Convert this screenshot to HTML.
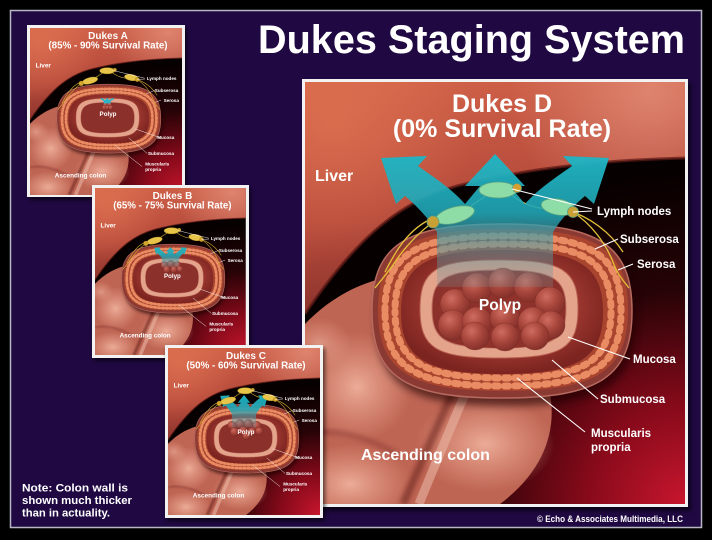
<!DOCTYPE html>
<html><head><meta charset="utf-8"><style>
html,body{margin:0;padding:0;background:#000;}
svg{display:block;}
text{font-family:"Liberation Sans",Arial,sans-serif;font-weight:bold;fill:#fff;}
</style></head><body>
<svg width="712" height="540" viewBox="0 0 712 540" xmlns="http://www.w3.org/2000/svg">
<defs>
 <radialGradient id="dark" gradientUnits="userSpaceOnUse" cx="380" cy="422" r="330">
  <stop offset="0" stop-color="#c8162e"/><stop offset=".3" stop-color="#860a1a"/>
  <stop offset=".65" stop-color="#260306"/><stop offset="1" stop-color="#070000"/>
 </radialGradient>
 <linearGradient id="liver" x1="0" y1="0" x2=".25" y2="1">
  <stop offset="0" stop-color="#d3644a"/><stop offset=".6" stop-color="#b54a3b"/><stop offset="1" stop-color="#86302a"/>
 </linearGradient>
 <radialGradient id="liverHi1" gradientUnits="userSpaceOnUse" cx="345" cy="10" r="140">
  <stop offset="0" stop-color="#eea08a" stop-opacity=".6"/><stop offset="1" stop-color="#eea08a" stop-opacity="0"/>
 </radialGradient>
 <radialGradient id="liverHi2" gradientUnits="userSpaceOnUse" cx="30" cy="40" r="140">
  <stop offset="0" stop-color="#e77a55" stop-opacity=".55"/><stop offset="1" stop-color="#e77a55" stop-opacity="0"/>
 </radialGradient>
 <radialGradient id="hl">
  <stop offset="0" stop-color="#eeb09c" stop-opacity=".95"/><stop offset=".5" stop-color="#e6a08a" stop-opacity=".55"/><stop offset="1" stop-color="#e6a08a" stop-opacity="0"/>
 </radialGradient>
 <radialGradient id="polypG" cx=".38" cy=".32" r=".7">
  <stop offset="0" stop-color="#d06c60"/><stop offset=".55" stop-color="#a5443a"/><stop offset="1" stop-color="#84302a"/>
 </radialGradient>
 <radialGradient id="subG" cx=".5" cy=".45" r=".55">
  <stop offset=".6" stop-color="#a23a32"/><stop offset="1" stop-color="#7c2420"/>
 </radialGradient>
 <linearGradient id="arrowG" gradientUnits="userSpaceOnUse" x1="0" y1="70" x2="0" y2="205">
  <stop offset="0" stop-color="#1fb6c5" stop-opacity=".97"/><stop offset=".45" stop-color="#20a6b6" stop-opacity=".9"/>
  <stop offset=".7" stop-color="#4a9ca6" stop-opacity=".55"/><stop offset="1" stop-color="#7a9298" stop-opacity=".25"/>
 </linearGradient>
 <filter id="blur4" x="-20%" y="-20%" width="140%" height="140%"><feGaussianBlur stdDeviation="4"/></filter>
 <filter id="blur2" x="-20%" y="-20%" width="140%" height="140%"><feGaussianBlur stdDeviation="2"/></filter>
 <filter id="sh" x="-10%" y="-10%" width="120%" height="120%"><feGaussianBlur stdDeviation="2"/></filter>
 <clipPath id="clipP"><rect width="380" height="422"/></clipPath>

 <g id="base">
  <rect width="380" height="422" fill="url(#dark)"/>
  <path d="M0,0 H380 V76 C300,78 222,86 152,104 C100,118 55,150 0,232 Z" fill="url(#liver)"/>
  <path d="M0,0 H380 V76 C300,78 222,86 152,104 C100,118 55,150 0,232 Z" fill="url(#liverHi1)"/>
  <path d="M0,0 H380 V76 C300,78 222,86 152,104 C100,118 55,150 0,232 Z" fill="url(#liverHi2)"/>
  <path d="M380,76 C300,78 222,86 152,104 C100,118 55,150 0,232" fill="none" stroke="#5e1a16" stroke-width="3" opacity=".7"/>
  <path d="M0,242 C25,216 55,200 88,194 C110,232 125,280 150,300 L245,312 C252,350 238,390 195,422 L0,422 Z" fill="#bf6554"/>
  <ellipse cx="52" cy="305" rx="55" ry="55" fill="url(#hl)"/>
  <ellipse cx="45" cy="402" rx="62" ry="40" fill="url(#hl)"/>
  <ellipse cx="180" cy="362" rx="70" ry="48" fill="url(#hl)"/>
  <ellipse cx="15" cy="262" rx="32" ry="26" fill="url(#hl)" opacity=".7"/>
  <path d="M150,305 C132,345 112,390 98,422" stroke="#5e1c18" stroke-width="8" fill="none" opacity=".5" filter="url(#blur2)"/>
  <path d="M160,312 C144,350 126,392 114,422" stroke="#e8b4a2" stroke-width="9" fill="none" opacity=".6"/>
  <path d="M0,352 C30,346 60,354 92,372" stroke="#6a2420" stroke-width="6" fill="none" opacity=".3" filter="url(#blur2)"/>
  <path d="M67,229 C67,163.75 99.5,142 197,142 C294.5,142 327,163.75 327,229 C327,294.25 294.5,316 197,316 C99.5,316 67,294.25 67,229 Z" transform="translate(4,8)" fill="#1a0404" opacity=".6" filter="url(#blur4)"/>
  <path d="M67,229 C67,163.75 99.5,142 197,142 C294.5,142 327,163.75 327,229 C327,294.25 294.5,316 197,316 C99.5,316 67,294.25 67,229 Z" fill="#8a3a33" stroke="#b76a5f" stroke-width="1.5"/>
  <path d="M73,228 C73,167.25 104.25,147 198,147 C291.75,147 323,167.25 323,228 C323,288.75 291.75,309 198,309 C104.25,309 73,288.75 73,228 Z" fill="#a9442f"/>
  <path d="M80,229 C80,172.75 109.5,154 198,154 C286.5,154 316,172.75 316,229 C316,285.25 286.5,304 198,304 C109.5,304 80,285.25 80,229 Z" fill="none" stroke="#e98c63" stroke-width="7" stroke-dasharray="4 6" stroke-linecap="round"/>
  <path d="M90,229 C90,178.75 117,162 198,162 C279,162 306,178.75 306,229 C306,279.25 279,296 198,296 C117,296 90,279.25 90,229 Z" fill="none" stroke="#e98c63" stroke-width="7" stroke-dasharray="4 6" stroke-dashoffset="5" stroke-linecap="round"/>
  <path d="M96,230 C96,183.5 121,168 197,168 C273,168 298,183.5 298,230 C298,276.5 273,292 197,292 C121,292 96,276.5 96,230 Z" fill="url(#subG)"/>
  <path d="M115,227 C115,187.8 130.8,178 194,178 C257.2,178 273,187.8 273,227 C273,266.2 257.2,276 194,276 C130.8,276 115,266.2 115,227 Z" fill="#e4a38b" stroke="#b8604f" stroke-width="1"/>
  <path d="M127,227 C127,195.8 140.4,188 194,188 C247.6,188 261,195.8 261,227 C261,258.2 247.6,266 194,266 C140.4,266 127,258.2 127,227 Z" fill="#8b302a" stroke="#c07060" stroke-width="1"/>
 </g>

 <g id="vessels" fill="none" stroke="#e3c23a" stroke-width="1.3">
  <path d="M128,140 C112,152 100,165 90,180 C82,192 76,198 70,206"/>
  <path d="M122,139 C102,150 90,170 80,190"/>
  <path d="M268,130 C286,142 300,160 308,180 C312,192 318,198 324,206"/>
  <path d="M262,128 C285,135 305,150 318,170"/>
  <path d="M160,128 C175,118 182,112 192,110"/>
  <path d="M205,112 C222,126 240,128 250,126"/>
 </g>

 <path id="arrowP" d="M132,205 L132,150 C124,137 112,124 100,114 L91,122 L76,76 L122,74 L113,84 C130,96 148,108 160,122 L175,104 L160,104 L190,72 L220,104 L205,104 L220,122 C232,108 250,96 267,84 L258,74 L304,76 L289,122 L280,114 C268,124 256,137 248,150 L248,205 Z"/>

 <g id="nodesY" stroke="#a88a20" stroke-width=".8">
  <ellipse cx="193" cy="108" rx="19" ry="8" fill="#e8c548"/>
  <ellipse cx="150" cy="133" rx="20" ry="8" fill="#e8c548" transform="rotate(-15 150 133)"/>
  <ellipse cx="253" cy="125" rx="17" ry="8" fill="#e8c548" transform="rotate(10 253 125)"/>
  <circle cx="128" cy="140" r="6" fill="#d4a530"/>
  <circle cx="212" cy="106" r="4.5" fill="#d4a530"/>
  <circle cx="268" cy="130" r="5.5" fill="#d4a530"/>
 </g>

 <g id="llines" stroke="#fff" stroke-width="1.1">
  <line x1="287" y1="127" x2="207" y2="107"/>
  <line x1="287" y1="129" x2="268" y2="130"/>
  <line x1="313" y1="157" x2="290" y2="167"/>
  <line x1="328" y1="182" x2="313" y2="188"/>
  <line x1="325" y1="277" x2="263" y2="255"/>
  <line x1="293" y1="317" x2="247" y2="278"/>
  <line x1="280" y1="350" x2="212" y2="296"/>
 </g>
</defs>

<rect width="712" height="540" fill="#000"/>
<rect x="10.5" y="10.5" width="691" height="517" fill="#200943" stroke="#b8b8c4" stroke-width="1.5"/>
<text x="258" y="53" font-size="39.5" textLength="427" lengthAdjust="spacingAndGlyphs">Dukes Staging System</text>

<!-- Panel D -->
<rect x="305" y="83" width="386" height="428" fill="#000" opacity=".6" filter="url(#sh)"/>
<rect x="302" y="79" width="386" height="428" fill="#f2f2f2"/>
<g transform="translate(305,82)">
 <g clip-path="url(#clipP)">
  <use href="#base"/>
  <path d="M134,225 C132,200 150,192 194,192 C240,192 258,200 258,228 C258,258 240,266 196,266 C150,266 136,255 134,225 Z" fill="#8e322b"/>
  <g fill="url(#polypG)" stroke="#74282280" stroke-width=".6">
   <circle cx="150" cy="222" r="15"/><circle cx="172" cy="206" r="15"/><circle cx="198" cy="201" r="15"/>
   <circle cx="224" cy="205" r="15"/><circle cx="245" cy="220" r="15"/><circle cx="148" cy="243" r="15"/>
   <circle cx="172" cy="240" r="15"/><circle cx="200" cy="236" r="15"/><circle cx="228" cy="240" r="15"/>
   <circle cx="246" cy="243" r="14"/><circle cx="170" cy="254" r="14"/><circle cx="200" cy="255" r="14"/>
   <circle cx="230" cy="254" r="14"/>
  </g>
  <use href="#vessels"/>
  <use href="#arrowP" fill="url(#arrowG)"/>
  <g stroke="#5aa080" stroke-width=".8">
   <ellipse cx="193" cy="108" rx="19" ry="8" fill="#8edca6"/>
   <ellipse cx="150" cy="133" rx="20" ry="8" fill="#8edca6" transform="rotate(-15 150 133)"/>
   <ellipse cx="253" cy="125" rx="17" ry="8" fill="#8edca6" transform="rotate(10 253 125)"/>
   <circle cx="128" cy="140" r="6" fill="#c9a034"/>
   <circle cx="212" cy="106" r="4.5" fill="#d8a030"/>
   <circle cx="268" cy="130" r="5.5" fill="#c9a034"/>
  </g>
  <use href="#llines"/>
  <text x="197" y="30" font-size="25" text-anchor="middle">Dukes D</text>
  <text x="197" y="55" font-size="25" text-anchor="middle">(0% Survival Rate)</text>
  <text x="10" y="99" font-size="16">Liver</text>
  <text x="292" y="133" font-size="11.5">Lymph nodes</text>
  <text x="315" y="161" font-size="11.5">Subserosa</text>
  <text x="332" y="186" font-size="11.5">Serosa</text>
  <text x="195" y="228" font-size="15.5" text-anchor="middle">Polyp</text>
  <text x="328" y="281" font-size="11.5">Mucosa</text>
  <text x="295" y="321" font-size="11.5">Submucosa</text>
  <text x="286" y="355" font-size="11.5">Muscularis</text>
  <text x="286" y="369" font-size="11.5">propria</text>
  <text x="56" y="378" font-size="16">Ascending colon</text>
 </g>
</g>

<!-- Panel A -->
<rect x="29" y="28" width="158" height="172" fill="#000" opacity=".6" filter="url(#sh)"/>
<rect x="27" y="25" width="158" height="172" fill="#f2f2f2"/>
<g transform="translate(30,28) scale(0.4,0.3957)">
 <g clip-path="url(#clipP)">
  <use href="#base"/>
  <g fill="url(#polypG)" stroke="#6e2420" stroke-width=".8">
   <circle cx="189" cy="194" r="6"/><circle cx="199" cy="194" r="6"/><circle cx="186" cy="201" r="6"/>
   <circle cx="194" cy="201" r="6"/><circle cx="202" cy="201" r="6"/>
  </g>
  <use href="#vessels"/>
  <use href="#arrowP" fill="#2bb3c6" transform="translate(193,190) scale(0.15,0.1) translate(-190,-200)"/>
  <use href="#nodesY"/>
  <use href="#llines"/>
  <text x="195" y="28" font-size="25" text-anchor="middle">Dukes A</text>
  <text x="195" y="52" font-size="24.5" text-anchor="middle">(85% - 90% Survival Rate)</text>
  <text x="14" y="100" font-size="16">Liver</text>
  <text x="292" y="131" font-size="11.5">Lymph nodes</text>
  <text x="312" y="162" font-size="11.5">Subserosa</text>
  <text x="334" y="187" font-size="11.5">Serosa</text>
  <text x="195" y="222" font-size="15.5" text-anchor="middle">Polyp</text>
  <text x="318" y="281" font-size="11.5">Mucosa</text>
  <text x="295" y="321" font-size="11.5">Submucosa</text>
  <text x="288" y="348" font-size="11.5">Muscularis</text>
  <text x="288" y="362" font-size="11.5">propria</text>
  <text x="62" y="378" font-size="16">Ascending colon</text>
 </g>
</g>

<!-- Panel B -->
<rect x="94" y="188" width="157" height="173" fill="#000" opacity=".6" filter="url(#sh)"/>
<rect x="92" y="185" width="157" height="173" fill="#f2f2f2"/>
<g transform="translate(95,188) scale(0.397,0.3957)">
 <g clip-path="url(#clipP)">
  <use href="#base"/>
  <g fill="url(#polypG)" stroke="#6e2420" stroke-width=".8">
   <circle cx="174" cy="195" r="9"/><circle cx="191" cy="192" r="9"/><circle cx="208" cy="195" r="9"/>
   <circle cx="181" cy="206" r="9"/><circle cx="199" cy="206" r="9"/><circle cx="214" cy="205" r="8"/>
  </g>
  <use href="#vessels"/>
  <use href="#arrowP" fill="url(#arrowG)" transform="translate(190,198) scale(0.36,0.38) translate(-190,-200)"/>
  <use href="#nodesY"/>
  <use href="#llines"/>
  <text x="195" y="28" font-size="25" text-anchor="middle">Dukes B</text>
  <text x="195" y="52" font-size="24.5" text-anchor="middle">(65% - 75% Survival Rate)</text>
  <text x="14" y="100" font-size="16">Liver</text>
  <text x="292" y="131" font-size="11.5">Lymph nodes</text>
  <text x="312" y="162" font-size="11.5">Subserosa</text>
  <text x="334" y="187" font-size="11.5">Serosa</text>
  <text x="195" y="227" font-size="15.5" text-anchor="middle">Polyp</text>
  <text x="318" y="281" font-size="11.5">Mucosa</text>
  <text x="295" y="321" font-size="11.5">Submucosa</text>
  <text x="288" y="348" font-size="11.5">Muscularis</text>
  <text x="288" y="362" font-size="11.5">propria</text>
  <text x="62" y="378" font-size="16">Ascending colon</text>
 </g>
</g>

<!-- Panel C -->
<rect x="167" y="348" width="158" height="173" fill="#000" opacity=".6" filter="url(#sh)"/>
<rect x="165" y="345" width="158" height="173" fill="#f2f2f2"/>
<g transform="translate(168,348) scale(0.4,0.3957)">
 <g clip-path="url(#clipP)">
  <use href="#base"/>
  <g fill="url(#polypG)" stroke="#6e2420" stroke-width=".8">
   <circle cx="160" cy="196" r="11"/><circle cx="180" cy="191" r="11"/><circle cx="201" cy="191" r="11"/>
   <circle cx="222" cy="196" r="11"/><circle cx="166" cy="212" r="11"/><circle cx="188" cy="210" r="11"/>
   <circle cx="210" cy="212" r="11"/><circle cx="228" cy="210" r="10"/><circle cx="196" cy="222" r="10"/>
  </g>
  <use href="#vessels"/>
  <use href="#arrowP" fill="url(#arrowG)" transform="translate(190,198) scale(0.52,0.62) translate(-190,-200)"/>
  <use href="#nodesY"/>
  <use href="#llines"/>
  <text x="195" y="28" font-size="25" text-anchor="middle">Dukes C</text>
  <text x="195" y="52" font-size="24.5" text-anchor="middle">(50% - 60% Survival Rate)</text>
  <text x="14" y="100" font-size="16">Liver</text>
  <text x="292" y="131" font-size="11.5">Lymph nodes</text>
  <text x="312" y="162" font-size="11.5">Subserosa</text>
  <text x="334" y="187" font-size="11.5">Serosa</text>
  <text x="195" y="218" font-size="15.5" text-anchor="middle">Polyp</text>
  <text x="318" y="281" font-size="11.5">Mucosa</text>
  <text x="295" y="321" font-size="11.5">Submucosa</text>
  <text x="288" y="348" font-size="11.5">Muscularis</text>
  <text x="288" y="362" font-size="11.5">propria</text>
  <text x="62" y="378" font-size="16">Ascending colon</text>
 </g>
</g>

<text x="22" y="491.5" font-size="11.4" textLength="106" lengthAdjust="spacingAndGlyphs">Note:  Colon wall is</text>
<text x="22" y="504" font-size="11.4" textLength="110" lengthAdjust="spacingAndGlyphs">shown much thicker</text>
<text x="22" y="516.5" font-size="11.4" textLength="88" lengthAdjust="spacingAndGlyphs">than in actuality.</text>
<text x="537" y="522" font-size="9.5" textLength="146" lengthAdjust="spacingAndGlyphs">© Echo &amp; Associates Multimedia, LLC</text>
</svg>
</body></html>
